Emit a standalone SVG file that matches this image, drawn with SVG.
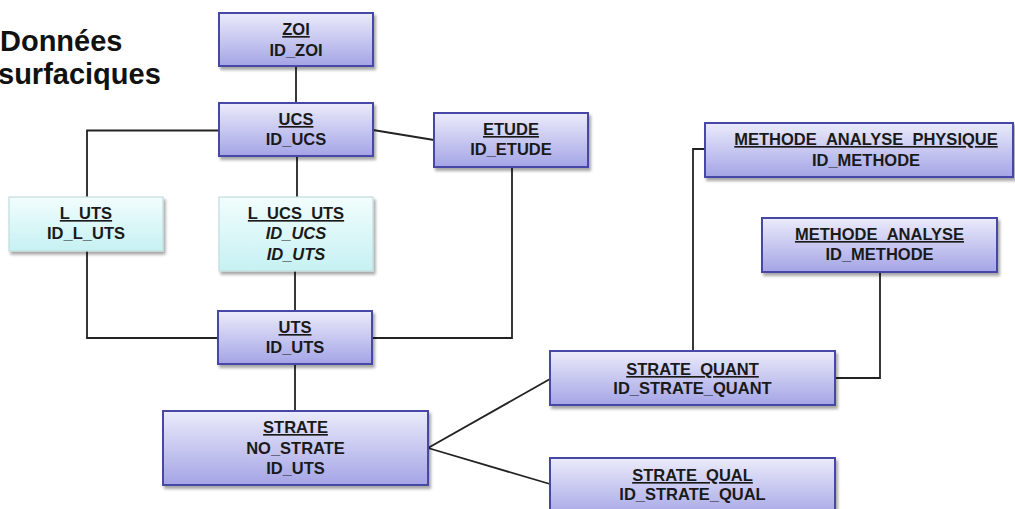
<svg xmlns="http://www.w3.org/2000/svg" width="1015" height="509" viewBox="0 0 1015 509">
<defs>
<linearGradient id="gPurple" x1="0" y1="0" x2="0" y2="1">
<stop offset="0" stop-color="#ebebfb"/>
<stop offset="1" stop-color="#a4a4e6"/>
</linearGradient>
<linearGradient id="gCyan" x1="0" y1="0" x2="0" y2="1">
<stop offset="0" stop-color="#f2fdfd"/>
<stop offset="1" stop-color="#c6f1f3"/>
</linearGradient>
<filter id="shadow" x="-10%" y="-10%" width="120%" height="140%">
<feDropShadow dx="2" dy="3" stdDeviation="1.8" flood-color="#000" flood-opacity="0.35"/>
</filter>
</defs>
<style>
.box{fill:url(#gPurple);stroke:#4646a8;stroke-width:2;filter:url(#shadow)}
.lbox{fill:url(#gCyan);stroke:#c4dcdc;stroke-width:1.2;filter:url(#shadow)}
text{font-family:"Liberation Sans",Arial,sans-serif;font-weight:bold;font-size:16.5px;fill:#1a1a1a;text-anchor:middle}
.t{text-decoration:underline}
.i{font-style:italic}
.conn{fill:none;stroke:#222;stroke-width:1.8}
.title{font-size:29px;text-anchor:start;fill:#111}
</style>
<rect width="1015" height="509" fill="#ffffff"/>
<text class="title" x="0" y="51">Données</text>
<text class="title" x="-2" y="84">surfaciques</text>
<g id="connectors">
<path class="conn" d="M296,66 L296,103"/>
<path class="conn" d="M219,130.5 L87,130.5 L87,197"/>
<path class="conn" d="M297,156 L297,197"/>
<path class="conn" d="M373,130 L434,140"/>
<path class="conn" d="M87,251 L87,338 L218,338"/>
<path class="conn" d="M295,271 L295,311"/>
<path class="conn" d="M512,167 L512,338 L372,338"/>
<path class="conn" d="M295,364 L295,411"/>
<path class="conn" d="M428,448 L550,379"/>
<path class="conn" d="M428,448 L550,484"/>
<path class="conn" d="M693,351 L693,149 L705,149"/>
<path class="conn" d="M835,378 L880,378 L880,272"/>
</g>
<g id="node-zoi">
<rect class="box" x="219" y="13" width="154" height="53"/>
<text class="t" x="296" y="35">ZOI</text>
<text x="296" y="56">ID_ZOI</text>
</g>
<g id="node-ucs">
<rect class="box" x="219" y="103" width="154" height="53"/>
<text class="t" x="296" y="125">UCS</text>
<text x="296" y="145">ID_UCS</text>
</g>
<g id="node-etude">
<rect class="box" x="434" y="113" width="154" height="54"/>
<text class="t" x="511" y="135">ETUDE</text>
<text x="511" y="155">ID_ETUDE</text>
</g>
<g id="node-l-uts">
<rect class="lbox" x="9" y="197" width="154" height="54"/>
<text class="t" x="86" y="219">L_UTS</text>
<text x="86" y="239">ID_L_UTS</text>
</g>
<g id="node-l-ucs-uts">
<rect class="lbox" x="219" y="197" width="154" height="74"/>
<text class="t" x="296" y="219">L_UCS_UTS</text>
<text class="i" x="296" y="239">ID_UCS</text>
<text class="i" x="296" y="260">ID_UTS</text>
</g>
<g id="node-uts">
<rect class="box" x="218" y="311" width="154" height="53"/>
<text class="t" x="295" y="333">UTS</text>
<text x="295" y="353">ID_UTS</text>
</g>
<g id="node-strate">
<rect class="box" x="163" y="411" width="265" height="74"/>
<text class="t" x="295.5" y="433">STRATE</text>
<text x="295.5" y="454">NO_STRATE</text>
<text x="295.5" y="474">ID_UTS</text>
</g>
<g id="node-strate-quant">
<rect class="box" x="550" y="351" width="285" height="54"/>
<text class="t" x="692.5" y="375">STRATE_QUANT</text>
<text x="692.5" y="394">ID_STRATE_QUANT</text>
</g>
<g id="node-strate-qual">
<rect class="box" x="550" y="458" width="285" height="60"/>
<text class="t" x="692.5" y="481">STRATE_QUAL</text>
<text x="692.5" y="500">ID_STRATE_QUAL</text>
</g>
<g id="node-methode-analyse-physique">
<rect class="box" x="705" y="123" width="308" height="54"/>
<text class="t" x="866" y="145">METHODE_ANALYSE_PHYSIQUE</text>
<text x="866" y="166">ID_METHODE</text>
</g>
<g id="node-methode-analyse">
<rect class="box" x="762" y="218" width="235" height="54"/>
<text class="t" x="879.5" y="240">METHODE_ANALYSE</text>
<text x="879.5" y="260">ID_METHODE</text>
</g>
</svg>
